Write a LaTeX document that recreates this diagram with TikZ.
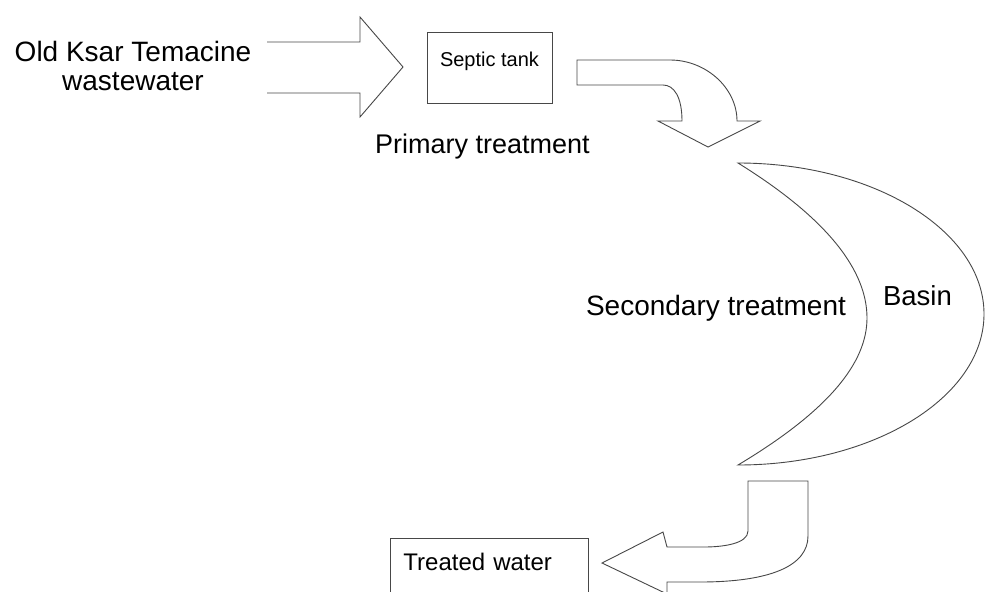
\documentclass[tikz,border=0pt]{standalone}
\usepackage{fontspec}
\setmainfont{Liberation Sans}
\begin{document}
\begin{tikzpicture}[x=1pt,y=-1pt,
  outline/.style={draw=black!72,line width=0.9pt,line join=miter},
  lbl/.style={inner sep=0pt,text=black,font=\fontsize{28pt}{29pt}\selectfont},
  boxnode/.style={draw=black!72,line width=0.9pt,inner sep=0pt}]
\clip (0,0) rectangle (986,592);
\fill[white] (0,0) rectangle (986,592);

% texts
\node[lbl,align=center] (src) at (133,66) {Old Ksar Temacine\\wastewater};
\node[lbl,anchor=base,font=\fontsize{27pt}{29pt}\selectfont] (prim) at (482.5,153) {Primary treatment};
\node[lbl,anchor=base] (sec) at (716,315) {Secondary treatment};
\node[lbl,anchor=base,font=\fontsize{27.5pt}{29pt}\selectfont] (basinlbl) at (917.5,305) {Basin};

% septic tank box
\node[boxnode,minimum width=125pt,minimum height=71pt,text height=14pt,text depth=16pt,
      font=\fontsize{20pt}{22pt}\selectfont] (tank) at (489.5,67.5) {Septic tank};

% treated water box
\node[boxnode,anchor=north west,minimum width=198pt,minimum height=80pt,text width=172pt,align=left,
      text height=17pt,text depth=33pt,font=\fontsize{24pt}{26pt}\selectfont] (treated) at (390,538) {Treated water};

% input block arrow (open at its tail)
\path[outline] (267,42) -- (360,42) -- (360,17) -- (403,67) -- (360,117) -- (360,93) -- (267,93);

% curved arrow from septic tank down to basin
\path[outline] (577,60) -- (670,60) .. controls (706,60) and (737,88) .. (737,121)
  -- (760,121) -- (708,147) -- (658,121) -- (682,121)
  .. controls (682,97) and (674,85) .. (663,85) -- (577,85) -- cycle;

% basin (crescent)
\path[outline] (738,163) .. controls (874,163) and (984,231) .. (984,314)
  .. controls (984,397) and (874,465) .. (738,465)
  .. controls (830,410) and (867,362) .. (867,318)
  .. controls (867,272) and (830,220) .. (738,163) -- cycle;

% curved arrow from basin to treated water
\path[outline] (748,481) -- (748,531) .. controls (748,544) and (722,547) .. (704,547)
  -- (667,547) -- (663,532) -- (602,563) -- (667,594) -- (667,582)
  -- (700,582) .. controls (770,582) and (808,566) .. (808,536) -- (808,481) -- cycle;
\end{tikzpicture}
\end{document}
